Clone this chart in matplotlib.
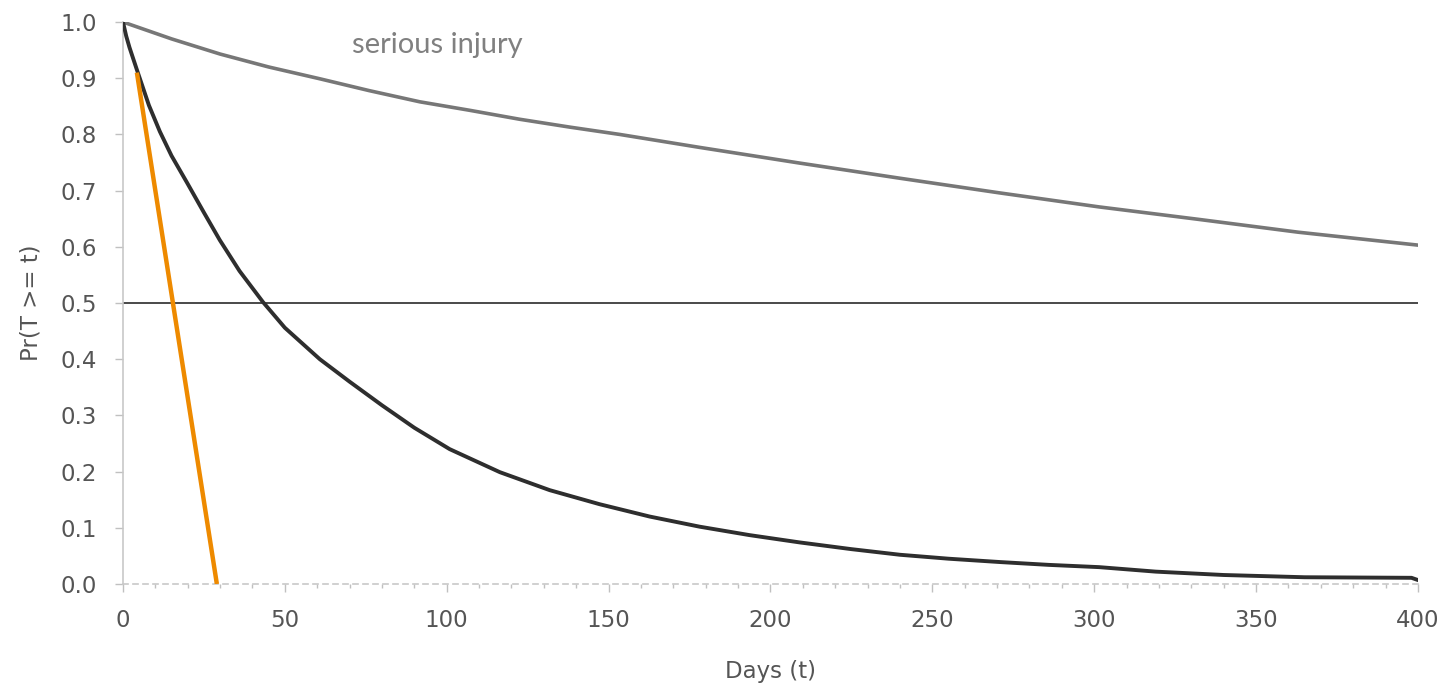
import matplotlib.pyplot as plt
from matplotlib.ticker import MultipleLocator

# data
days_all = [0, 1, 2, 4.3, 8, 11.4, 15, 19.8, 25, 29.9, 36, 43.2, 50, 60.8, 70, 80, 90,
            100.9, 116.4, 131.8, 147.2, 162.7, 178.1, 193.5, 209, 225, 240, 255, 271,
            286, 301.5, 319, 340, 365, 398, 400]
surv_all = [1.0, 0.975, 0.955, 0.915, 0.852, 0.805, 0.762, 0.714, 0.661, 0.612, 0.557,
            0.502, 0.456, 0.400, 0.360, 0.318, 0.278, 0.240, 0.199, 0.167, 0.142, 0.120,
            0.102, 0.087, 0.074, 0.062, 0.052, 0.045, 0.039, 0.034, 0.030, 0.022, 0.016,
            0.012, 0.011, 0.007]

days_serious = [0, 15, 30, 45, 60.8, 76, 91.7, 107, 122.5, 138, 153.4, 178, 209, 240,
                270.7, 301.5, 332, 363, 400]
surv_serious = [1.0, 0.970, 0.943, 0.920, 0.899, 0.878, 0.858, 0.843, 0.827, 0.813,
                0.800, 0.777, 0.749, 0.722, 0.696, 0.671, 0.649, 0.626, 0.603]

tangent_days = [4.3, 29.0]
tangent_surv = [0.91, 0.0]

median_level = 0.5

fig = plt.figure(figsize=(14.45, 6.86), dpi=100)
ax = fig.add_axes([0.0851, 0.1487, 0.8962, 0.8192])

ax.plot([0, 400], [median_level, median_level], color='#3a3a3a', lw=1.3, zorder=2)
ax.plot(days_serious, surv_serious, color='#777777', lw=2.6, zorder=3)
ax.plot(days_all, surv_all, color='#2e2e2e', lw=2.8, zorder=4)
ax.plot(tangent_days, tangent_surv, color='#EE8A00', lw=3.2, solid_capstyle='butt', zorder=5)

ax.text(97, 0.959, 'serious injury', color='#808080', fontsize=21, family='Lato',
        ha='center', va='center')

ax.set_xlim(0, 400)
ax.set_ylim(0, 1.0)
ax.xaxis.set_major_locator(MultipleLocator(50))
ax.xaxis.set_minor_locator(MultipleLocator(10))
ax.yaxis.set_major_locator(MultipleLocator(0.1))
ax.yaxis.set_major_formatter(plt.FuncFormatter(lambda v, p: '%.1f' % v))

for s in ['top', 'right']:
    ax.spines[s].set_visible(False)
ax.spines['left'].set_color('#c8c8c8')
ax.spines['bottom'].set_color('#c8c8c8')
ax.spines['bottom'].set_linestyle((0, (3, 3)))
ax.spines['left'].set_linewidth(1.2)
ax.spines['bottom'].set_linewidth(1.2)

ax.tick_params(axis='both', which='major', length=6, width=1, color='#c0c0c0',
               labelcolor='#555555', labelsize=16.5)
ax.tick_params(axis='x', which='major', pad=12)
ax.tick_params(axis='y', which='major', pad=13)
ax.tick_params(axis='x', which='minor', length=3, width=1, color='#c0c0c0')
for lab in ax.get_xticklabels() + ax.get_yticklabels():
    lab.set_family('DejaVu Sans')

ax.set_xlabel('Days (t)', fontsize=16.5, family='DejaVu Sans', color='#555555', labelpad=20)
ax.set_ylabel('Pr(T >= t)', fontsize=16.5, family='DejaVu Sans', color='#555555', labelpad=13)

plt.savefig('out.png', dpi=100)
